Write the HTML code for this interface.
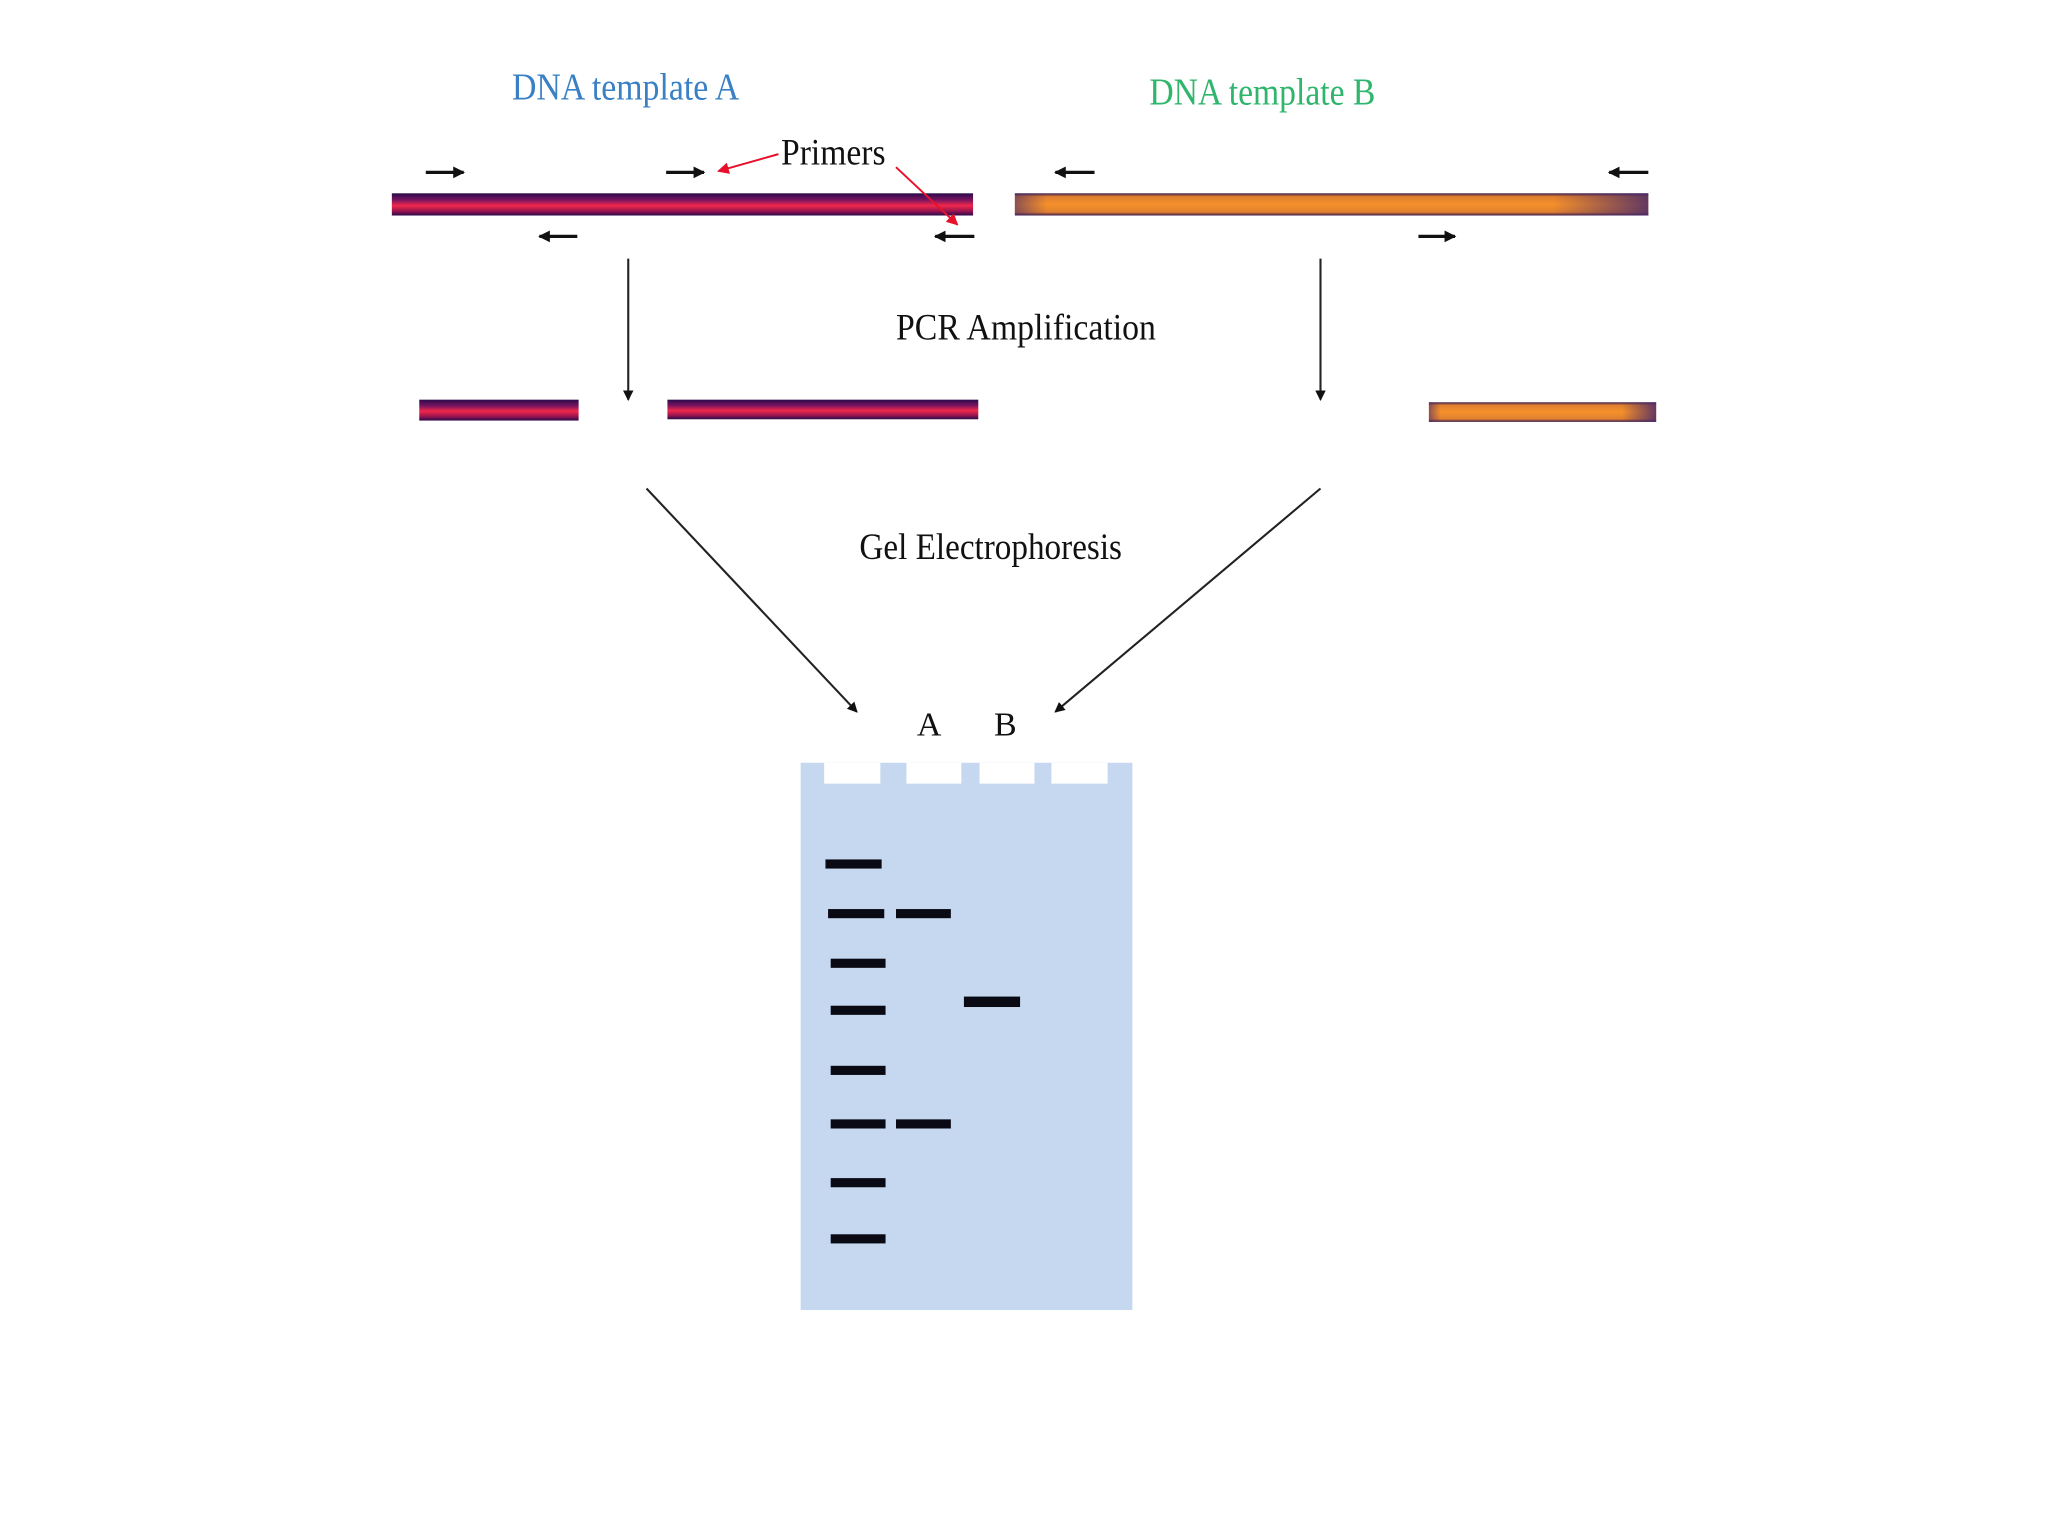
<!DOCTYPE html>
<html><head><meta charset="utf-8"><style>
html,body{margin:0;padding:0;background:#fff;}
svg{display:block;}
text{font-family:"Liberation Serif",serif;}
</style></head><body>
<svg width="2048" height="1536" viewBox="0 0 1568 1176" xmlns="http://www.w3.org/2000/svg">
<defs>
<linearGradient id="gA" x1="0" y1="0" x2="0" y2="1">
<stop offset="0" stop-color="#2a0a4a"/><stop offset="0.3" stop-color="#7a1460"/><stop offset="0.55" stop-color="#f0284a"/><stop offset="0.8" stop-color="#9a1450"/><stop offset="1" stop-color="#2a0a4a"/>
</linearGradient>
<linearGradient id="gBv" x1="0" y1="0" x2="0" y2="1">
<stop offset="0" stop-color="#3a1a4a"/><stop offset="0.15" stop-color="#e08030"/><stop offset="0.5" stop-color="#f5902a"/><stop offset="0.85" stop-color="#e08030"/><stop offset="1" stop-color="#3a1a4a"/>
</linearGradient>
<linearGradient id="gBh" x1="0" y1="0" x2="1" y2="0">
<stop offset="0" stop-color="#4a2a6a" stop-opacity="0.6"/><stop offset="0.05" stop-color="#4a2a6a" stop-opacity="0"/><stop offset="0.85" stop-color="#4a2a6a" stop-opacity="0"/><stop offset="1" stop-color="#4a2a6a" stop-opacity="0.85"/>
</linearGradient>
<marker id="ah" markerWidth="8" markerHeight="8" refX="7" refY="4" orient="auto" markerUnits="userSpaceOnUse"><path d="M0,0 L8,4 L0,8 z" fill="#111"/></marker>
<marker id="ahs" markerWidth="9" markerHeight="9" refX="8" refY="4.5" orient="auto" markerUnits="userSpaceOnUse"><path d="M0,0 L9,4.5 L0,9 z" fill="#111"/></marker>
<marker id="ahr" markerWidth="9" markerHeight="9" refX="8" refY="4.5" orient="auto" markerUnits="userSpaceOnUse"><path d="M0,0 L9,4.5 L0,9 z" fill="#e8102a"/></marker>
</defs>

<text x="392" y="76" font-size="29" fill="#3a80c4" textLength="174" lengthAdjust="spacingAndGlyphs">DNA template A</text>
<text x="880" y="80" font-size="29" fill="#2fb56c" textLength="173" lengthAdjust="spacingAndGlyphs">DNA template B</text>
<text x="598" y="126" font-size="28" fill="#111" textLength="80" lengthAdjust="spacingAndGlyphs">Primers</text>

<g stroke="#111" stroke-width="2.5" fill="none">
<line x1="326" y1="132" x2="355" y2="132" marker-end="url(#ahs)"/>
<line x1="510" y1="132" x2="539" y2="132" marker-end="url(#ahs)"/>
<line x1="838" y1="132" x2="808" y2="132" marker-end="url(#ahs)"/>
<line x1="1262" y1="132" x2="1232" y2="132" marker-end="url(#ahs)"/>
<line x1="442" y1="181" x2="413" y2="181" marker-end="url(#ahs)"/>
<line x1="746" y1="181" x2="716" y2="181" marker-end="url(#ahs)"/>
<line x1="1086" y1="181" x2="1114" y2="181" marker-end="url(#ahs)"/>
</g>

<rect x="300" y="148" width="445" height="17" fill="url(#gA)"/>
<rect x="777" y="148" width="485" height="17" fill="url(#gBv)"/>
<rect x="777" y="148" width="485" height="17" fill="url(#gBh)"/>

<g stroke="#e8102a" stroke-width="1.5" fill="none">
<line x1="596" y1="118" x2="550" y2="131" marker-end="url(#ahr)"/>
<line x1="686" y1="128" x2="733" y2="172" marker-end="url(#ahr)"/>
</g>

<g stroke="#222" stroke-width="1.6" fill="none">
<line x1="481" y1="198" x2="481" y2="306" marker-end="url(#ah)"/>
<line x1="1011" y1="198" x2="1011" y2="306" marker-end="url(#ah)"/>
<line x1="495" y1="374" x2="656" y2="545" marker-end="url(#ah)"/>
<line x1="1011" y1="374" x2="808" y2="545" marker-end="url(#ah)"/>
</g>

<text x="686" y="260" font-size="28" fill="#111" textLength="199" lengthAdjust="spacingAndGlyphs">PCR Amplification</text>

<rect x="321" y="306" width="122" height="16" fill="url(#gA)"/>
<rect x="511" y="306" width="238" height="15" fill="url(#gA)"/>
<rect x="1094" y="308" width="174" height="15" fill="url(#gBv)"/>
<rect x="1094" y="308" width="174" height="15" fill="url(#gBh)"/>

<text x="658" y="428" font-size="28" fill="#111" textLength="201" lengthAdjust="spacingAndGlyphs">Gel Electrophoresis</text>
<text x="702" y="563" font-size="26" fill="#111">A</text>
<text x="761" y="563" font-size="26" fill="#111">B</text>

<rect x="613" y="584" width="254" height="419" fill="#c6d8ef"/>
<g fill="#fff">
<rect x="631" y="584" width="43" height="16"/>
<rect x="694" y="584" width="42" height="16"/>
<rect x="750" y="584" width="42" height="16"/>
<rect x="805" y="584" width="43" height="16"/>
</g>
<g fill="#0a0a14">
<rect x="632" y="658" width="43" height="7"/>
<rect x="634" y="696" width="43" height="7"/>
<rect x="636" y="734" width="42" height="7"/>
<rect x="636" y="770" width="42" height="7"/>
<rect x="636" y="816" width="42" height="7"/>
<rect x="636" y="857" width="42" height="7"/>
<rect x="636" y="902" width="42" height="7"/>
<rect x="636" y="945" width="42" height="7"/>
<rect x="686" y="696" width="42" height="7"/>
<rect x="686" y="857" width="42" height="7"/>
<rect x="738" y="763" width="43" height="8"/>
</g>
</svg>
</body></html>
